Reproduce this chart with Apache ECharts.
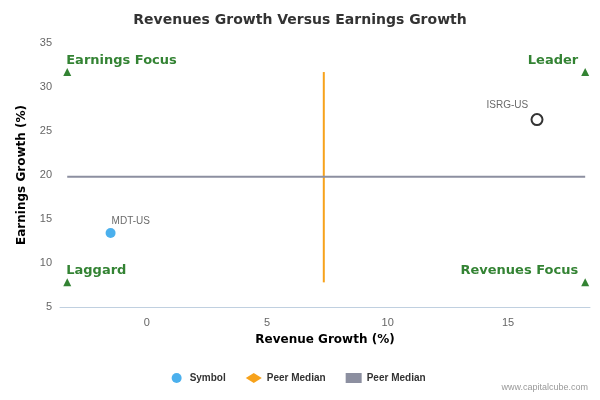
<!DOCTYPE html>
<html><head><meta charset="utf-8">
<script src="https://cdn.jsdelivr.net/npm/echarts@6/dist/echarts.min.js"></script>
<style>html,body{margin:0;padding:0;background:#fff}#c{width:600px;height:400px}</style>
</head><body><div id="c"></div>
<script>
const symbols = [["MDT-US", -1.5, 13.4]];
const leader = [["ISRG-US", 16.2, 26.3]];
const vMedian = [[7.35, 7.8], [7.35, 31.7]];
const hMedian = [[-3.3, 19.8], [18.2, 19.8]];
const quadrants = [["Earnings Focus", -3.3, 31.7, "left"], ["Leader", 18.2, 31.7, "right"], ["Laggard", -3.3, 7.8, "left"], ["Revenues Focus", 18.2, 7.8, "right"]];
const yTicks = [5, 35, 5];

const chart = echarts.init(document.getElementById('c'));
chart.setOption({
  animation: false,
  title: { text: 'Revenues Growth Versus Earnings Growth', left: 'center', top: 8,
    textStyle: { fontFamily: 'DejaVu Sans', fontSize: 14, fontWeight: 'bold', color: '#333' } },
  grid: { left: 60, right: 10, top: 43, bottom: 93 },
  xAxis: { type: 'value', min: -3.6, max: 18.4, splitNumber: 4,
    name: 'Revenue Growth (%)', nameLocation: 'middle', nameGap: 27,
    nameTextStyle: { fontWeight: 'bold', fontSize: 12, color: '#000', fontFamily: 'DejaVu Sans' },
    axisLine: { lineStyle: { color: '#c0d0e0' } }, axisTick: { show: false },
    axisLabel: { showMinLabel: false, showMaxLabel: false, color: '#666', fontSize: 11, margin: 10 },
    splitLine: { show: false } },
  yAxis: { type: 'value', min: yTicks[0], max: yTicks[1], interval: yTicks[2],
    name: 'Earnings Growth (%)', nameLocation: 'middle', nameGap: 32,
    nameTextStyle: { fontWeight: 'bold', fontSize: 12, color: '#000', fontFamily: 'DejaVu Sans' },
    axisLine: { show: false }, axisTick: { show: false },
    axisLabel: { color: '#666', fontSize: 11 }, splitLine: { show: false } },
  legend: { bottom: 12, left: 'center', itemWidth: 16, itemHeight: 10, itemGap: 20,
    textStyle: { fontWeight: 'bold', fontSize: 10, color: '#333' },
    data: [{ name: 'Symbol', icon: 'circle' }, { name: 'Peer Median', icon: 'diamond' }, { name: 'Peer Median ', icon: 'rect' }] },
  graphic: [{ type: 'text', right: 12, bottom: 8, style: { text: 'www.capitalcube.com', fill: '#999', fontSize: 9 } }],
  series: [
    { name: 'Symbol', type: 'scatter', symbolSize: 10, itemStyle: { color: '#1e9ce8' },
      data: symbols.map(d => ({ value: [d[1], d[2]], name: d[0] })),
      label: { show: true, formatter: p => p.name, position: [6, -12], color: '#444', fontSize: 10 } },
    { name: 'Symbol', type: 'scatter', symbolSize: 11, itemStyle: { color: '#fff', borderColor: '#000', borderWidth: 2 },
      data: leader.map(d => ({ value: [d[1], d[2]], name: d[0] })),
      label: { show: true, formatter: p => p.name, position: [-44, -13], color: '#444', fontSize: 10 } },
    { name: 'Peer Median', type: 'line', data: vMedian, symbol: 'none', lineStyle: { color: '#f7a21b', width: 2 }, itemStyle: { color: '#f7a21b' } },
    { name: 'Peer Median ', type: 'line', data: hMedian, symbol: 'none', lineStyle: { color: '#8c8fa0', width: 2 }, itemStyle: { color: '#8c8fa0' } },
    { name: 'quad', type: 'scatter', symbol: 'triangle', symbolSize: 8, itemStyle: { color: '#006400' },
      data: quadrants.map(d => ({ value: [d[1], d[2]], name: d[0],
        label: { show: true, formatter: d[0], position: d[3] === 'left' ? [3, -14] : [-3, -14], align: d[3] === 'left' ? 'left' : 'right' } })),
      label: { color: '#006400', fontWeight: 'bold', fontSize: 13, fontFamily: 'DejaVu Sans' } }
  ]
});
</script></body></html>
